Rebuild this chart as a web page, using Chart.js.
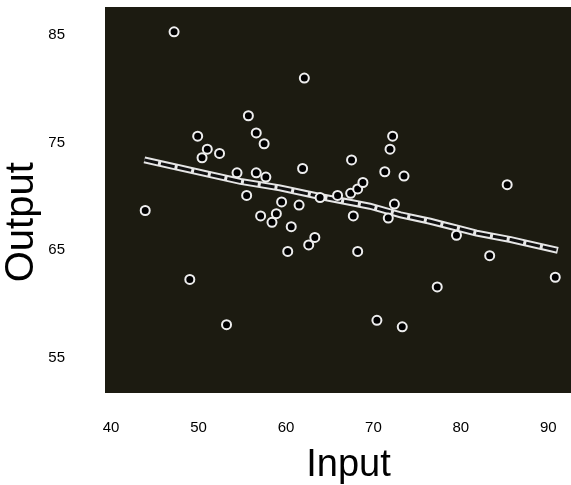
<!DOCTYPE html>
<html>
<head>
<meta charset="utf-8">
<script src="https://cdn.jsdelivr.net/npm/chart.js@4.4.1/dist/chart.umd.min.js"></script>
<style>
  html, body { margin: 0; padding: 0; background: #fff; }
  canvas { display: block; }
</style>
</head>
<body>
<canvas id="scatterChart" width="571" height="485"></canvas>
<script>
// Points (Input, Output)
const inputX = [43.9, 47.2, 49.0, 49.9, 50.4, 51.0, 52.4, 53.2, 54.4, 55.5, 55.7, 56.6, 56.6, 57.1, 57.5, 57.7,
    58.4, 58.9, 59.5, 60.2, 60.6, 61.5, 61.9, 62.1, 62.6, 63.3, 63.9, 65.9, 67.5, 67.4, 67.7, 68.2,
    68.2, 68.8, 70.4, 71.3, 71.7, 71.9, 72.2, 72.4, 73.3, 73.5, 77.3, 79.5, 83.3, 85.3, 90.8];
const outputY = [68.7, 85.3, 62.3, 75.6, 73.6, 74.4, 74.0, 58.1, 72.2, 70.1, 77.5, 75.9, 72.2, 68.2, 74.9, 71.8,
    67.6, 68.4, 69.5, 64.9, 67.2, 69.2, 72.6, 81.0, 65.5, 66.2, 69.9, 70.1, 73.4, 70.3, 68.2, 70.7,
    64.9, 71.3, 58.5, 72.3, 68.0, 74.4, 75.6, 69.3, 57.9, 71.9, 61.6, 66.4, 64.5, 71.1, 62.5];

// Fitted line vertices
const fitX = [43.8, 54.8, 59.3, 63.9, 69.6, 73.1, 76.5, 81.8, 85.7, 91.1];
const fitY = [73.4, 71.4, 70.8, 70.0, 69.1, 68.3, 67.7, 66.6, 66.0, 65.0];

// Tick labels
const xTicks = [40, 50, 60, 70, 80, 90];
const yTicks = [55, 65, 75, 85];

const points = inputX.map((x, i) => ({ x: x, y: outputY[i] }));
const fitLine = fitX.map((x, i) => ({ x: x, y: fitY[i] }));

// fond sombre de la zone du graphique
const plotBackground = {
    id: 'plotBackground',
    beforeDraw(chart) {
        const { ctx, chartArea: a } = chart;
        ctx.save();
        ctx.fillStyle = 'rgb(28,27,17)';
        ctx.fillRect(a.left, a.top, a.right - a.left, a.bottom - a.top);
        ctx.restore();
    }
};

// taille fixe des axes, sans marge auto
function fixAxis(size) {
    return s => {
        if (s.isHorizontal()) s.height = size; else s.width = size;
        s.paddingTop = 0; s.paddingBottom = 0;
        s.paddingLeft = 0; s.paddingRight = 0;
    };
}

const ctx = document.getElementById('scatterChart').getContext('2d');
const chart = new Chart(ctx, {
    type: 'scatter',
    data: {
        datasets: [
            {
                label: 'Data',
                data: points,
                backgroundColor: '#000',
                borderColor: '#eeeeee',
                borderWidth: 2,
                pointRadius: 4.5,
                order: 0
            },
            {
                type: 'line',
                label: 'Fit outer',
                data: fitLine,
                borderColor: '#e6e6e6',
                borderWidth: 7,
                pointRadius: 0,
                fill: false,
                order: 2
            },
            {
                type: 'line',
                label: 'Fit inner',
                data: fitLine,
                borderColor: '#111',
                borderWidth: 3,
                borderDash: [14, 3],
                pointRadius: 0,
                fill: false,
                order: 1
            }
        ]
    },
    options: {
        responsive: false,
        animation: false,
        layout: { autoPadding: false, padding: { top: 7, right: 0, left: 0, bottom: 0 } },
        plugins: {
            legend: { display: false },
            tooltip: { enabled: false }
        },
        scales: {
            x: {
                type: 'linear',
                min: 39.3,
                max: 92.6,
                border: { display: false },
                grid: { display: false, drawTicks: false },
                afterBuildTicks: s => { s.ticks = xTicks.map(v => ({ value: v })); },
                afterFit: fixAxis(92),
                ticks: {
                    color: '#000',
                    padding: 26,
                    font: { family: '"Liberation Sans", Arial, sans-serif', size: 15 }
                },
                title: {
                    display: true,
                    text: '  Input',
                    color: '#000',
                    padding: 0,
                    font: { family: '"Liberation Sans", Arial, sans-serif', size: 38, lineHeight: 1 }
                }
            },
            y: {
                type: 'linear',
                min: 51.75,
                max: 87.6,
                border: { display: false },
                grid: { display: false, drawTicks: false },
                afterBuildTicks: s => { s.ticks = yTicks.map(v => ({ value: v })); },
                afterFit: fixAxis(105),
                ticks: {
                    color: '#000',
                    padding: 40,
                    font: { family: '"Liberation Sans", Arial, sans-serif', size: 15 }
                },
                title: {
                    display: true,
                    text: 'Output    ',
                    color: '#000',
                    padding: 2,
                    font: { family: '"Liberation Sans", Arial, sans-serif', size: 40, lineHeight: 1 }
                }
            }
        }
    },
    plugins: [plotBackground]
});
</script>
</body>
</html>
